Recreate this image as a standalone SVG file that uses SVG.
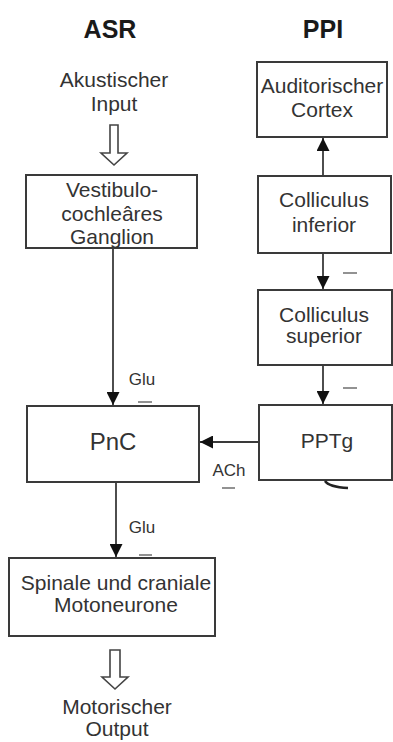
<svg xmlns="http://www.w3.org/2000/svg" width="393" height="742" viewBox="0 0 393 742">
<defs>
<style>
.t{font-family:"Liberation Sans",Arial,sans-serif;fill:#333;text-anchor:middle}
.b{font-size:21px}
.h{font-size:25px;font-weight:bold;fill:#1a1a1a}
.s{font-size:17px}
.box{fill:#fff;stroke:#3a3a3a;stroke-width:2}
.ln{stroke:#3a3a3a;stroke-width:1.8;fill:none}
.mn{stroke:#777;stroke-width:1.6}
.ho{fill:#fff;stroke:#444;stroke-width:1.6}
</style>
<marker id="ah" viewBox="0 0 12 12" refX="12" refY="6" markerWidth="13" markerHeight="13" markerUnits="userSpaceOnUse" orient="auto">
<path d="M0,0 L12,6 L0,12 Z" fill="#111"/>
</marker>
</defs>
<rect width="393" height="742" fill="#fff"/>
<text class="t h" x="110" y="38">ASR</text>
<text class="t h" x="323" y="38">PPI</text>
<g id="input">
<text class="t b" x="114" y="87">Akustischer</text>
<text class="t b" x="114" y="111">Input</text>
<path class="ho" d="M110,125 H118 V153 H127 L114,165 L101,153 H110 Z"/>
</g>
<g id="vcg">
<rect class="box" x="26" y="175" width="171" height="73"/>
<text class="t b" x="112" y="197">Vestibulo-</text>
<text class="t b" x="112" y="221">cochleâres</text>
<text class="t b" x="112" y="244">Ganglion</text>
</g>
<g id="pnc">
<rect class="box" x="27" y="406" width="172" height="76"/>
<text class="t" x="113" y="450" font-size="24">PnC</text>
</g>
<g id="moto">
<rect class="box" x="9" y="558" width="206" height="78"/>
<text class="t b" x="116" y="590">Spinale und craniale</text>
<text class="t b" x="116" y="612">Motoneurone</text>
</g>
<g id="output">
<path class="ho" d="M110,650 H120 V677 H128 L115,689 L102,677 H110 Z"/>
<text class="t b" x="117" y="714">Motorischer</text>
<text class="t b" x="117" y="736">Output</text>
</g>
<g id="ac">
<rect class="box" x="257" y="62" width="130" height="75"/>
<text class="t b" x="322" y="93">Auditorischer</text>
<text class="t b" x="322" y="117">Cortex</text>
</g>
<g id="ci">
<rect class="box" x="258" y="176" width="133" height="77"/>
<text class="t b" x="324" y="207">Colliculus</text>
<text class="t b" x="324" y="232">inferior</text>
</g>
<g id="cs">
<rect class="box" x="258" y="290" width="134" height="75"/>
<text class="t b" x="324" y="322">Colliculus</text>
<text class="t b" x="324" y="343">superior</text>
</g>
<g id="pptg">
<rect class="box" x="259" y="405" width="133" height="75"/>
<text class="t b" x="327" y="448">PPTg</text>
<path d="M325,481 Q329,487 348,488" stroke="#222" stroke-width="2.5" fill="none"/>
</g>
<g id="connectors">
<line class="ln" x1="113" y1="248" x2="113" y2="405" marker-end="url(#ah)"/>
<text class="t s" x="142" y="385">Glu</text>
<line class="mn" x1="138" y1="402" x2="152" y2="402"/>
<line class="ln" x1="116" y1="482" x2="116" y2="557" marker-end="url(#ah)"/>
<text class="t s" x="142" y="533">Glu</text>
<line class="mn" x1="139" y1="555" x2="152" y2="555"/>
<line class="ln" x1="323" y1="176" x2="323" y2="138" marker-end="url(#ah)"/>
<line class="ln" x1="323" y1="253" x2="323" y2="289" marker-end="url(#ah)"/>
<line class="mn" x1="343" y1="273" x2="357" y2="273"/>
<line class="ln" x1="323" y1="365" x2="323" y2="404" marker-end="url(#ah)"/>
<line class="mn" x1="343" y1="388" x2="357" y2="388"/>
<line class="ln" x1="259" y1="442" x2="200" y2="442" marker-end="url(#ah)"/>
<text class="t s" x="229" y="476">ACh</text>
<line class="mn" x1="222" y1="488" x2="235" y2="488"/>
</g>
</svg>
